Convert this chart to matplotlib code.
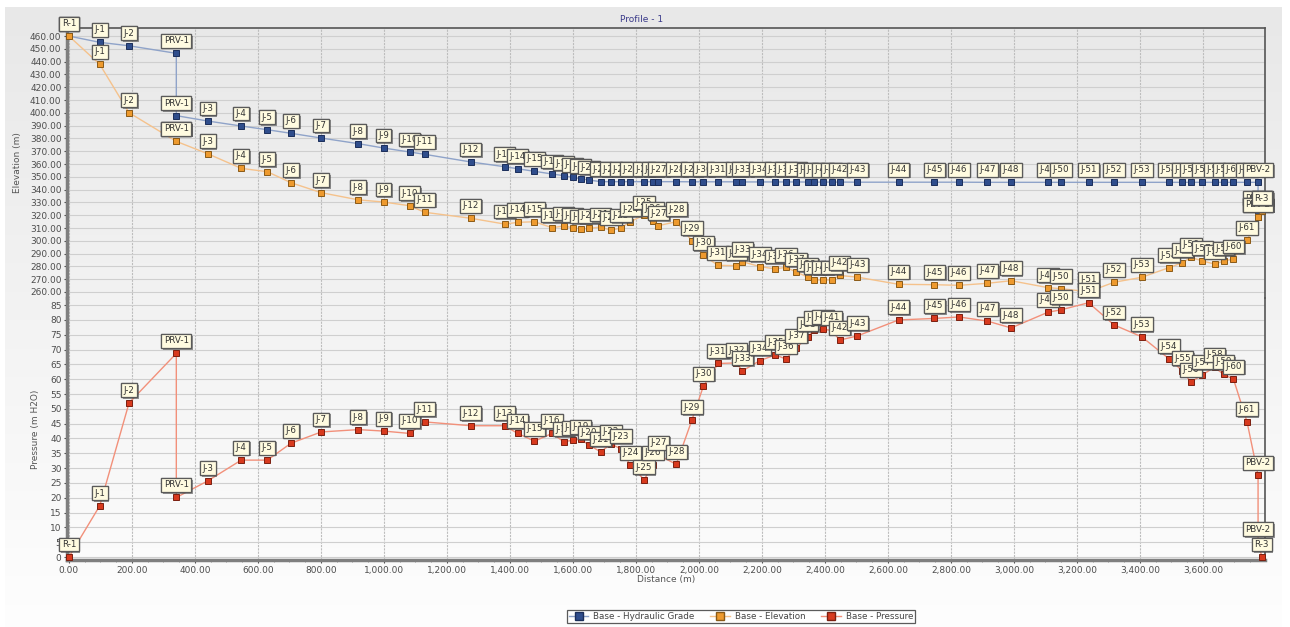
import matplotlib.pyplot as plt
import matplotlib.patheffects as pe
from matplotlib.ticker import MultipleLocator, FuncFormatter
from matplotlib.lines import Line2D
import numpy as np

# node labels along the profile (PRV-1 and PBV-2 appear twice: upstream / downstream)
labels = ['R-1', 'J-1', 'J-2', 'PRV-1', 'PRV-1', 'J-3', 'J-4', 'J-5', 'J-6', 'J-7',
          'J-8', 'J-9', 'J-10', 'J-11', 'J-12', 'J-13', 'J-14', 'J-15', 'J-16', 'J-17',
          'J-18', 'J-19', 'J-20', 'J-21', 'J-22', 'J-23', 'J-24', 'J-25', 'J-26', 'J-27',
          'J-28', 'J-29', 'J-30', 'J-31', 'J-32', 'J-33', 'J-34', 'J-35', 'J-36', 'J-37',
          'J-38', 'J-39', 'J-40', 'J-41', 'J-42', 'J-43', 'J-44', 'J-45', 'J-46', 'J-47',
          'J-48', 'J-49', 'J-50', 'J-51', 'J-52', 'J-53', 'J-54', 'J-55', 'J-56', 'J-57',
          'J-58', 'J-59', 'J-60', 'J-61', 'PBV-2', 'PBV-2', 'R-3']

distance = [0, 98, 191, 341, 341, 441, 547, 630, 705, 801,
            919, 999, 1082, 1129, 1276, 1383, 1425, 1478, 1534, 1571,
            1599, 1625, 1651, 1688, 1721, 1753, 1782, 1826, 1854, 1871,
            1928, 1978, 2014, 2061, 2119, 2138, 2194, 2243, 2276, 2309,
            2345, 2366, 2394, 2421, 2447, 2503, 2634, 2747, 2826, 2916,
            2991, 3108, 3149, 3237, 3318, 3406, 3492, 3535, 3562, 3598,
            3637, 3666, 3697, 3740, 3775, 3775, 3787]

hydraulic_grade = [460.0, 455.1, 452.4, 446.5, 397.8, 393.6, 389.7, 386.8, 384.0, 380.3,
                   375.9, 372.5, 369.4, 367.6, 361.6, 357.9, 356.3, 354.3, 352.2, 350.9,
                   349.6, 348.5, 347.5, 346.2, 346.2, 346.2, 346.2, 346.2, 346.2, 346.2,
                   346.2, 346.1, 346.1, 346.1, 346.1, 346.0, 346.0, 346.0, 346.0, 346.0,
                   345.9, 345.9, 345.9, 345.9, 345.9, 345.8, 345.8, 345.8, 345.8, 345.7,
                   345.7, 345.7, 345.7, 345.7, 345.7, 345.7, 345.7, 345.7, 345.7, 345.7,
                   345.7, 345.7, 345.7, 345.7, 345.7, 323.6, 323.5]

elevation = [460.0, 437.9, 400.1, 377.7, 377.7, 368.0, 356.6, 354.0, 345.4, 337.6,
             332.0, 330.3, 327.4, 322.3, 317.6, 313.1, 314.4, 314.9, 310.2, 311.6,
             310.2, 309.2, 309.7, 310.8, 308.2, 310.0, 314.9, 320.2, 315.2, 311.8,
             314.9, 300.0, 288.6, 280.8, 280.6, 283.7, 279.8, 278.0, 279.3, 275.6,
             271.7, 269.4, 269.4, 269.4, 272.9, 271.6, 266.0, 265.7, 265.2, 266.8,
             268.8, 263.4, 262.6, 260.2, 267.6, 271.5, 279.0, 282.9, 287.0, 284.3,
             281.8, 284.2, 285.8, 300.4, 318.4, 318.4, 323.5]

pressure = [0.0, 17.3, 52.0, 68.7, 20.1, 25.7, 32.7, 32.7, 38.4, 42.2,
            43.0, 42.5, 41.7, 45.6, 44.3, 44.3, 41.7, 39.1, 41.7, 38.9,
            39.4, 39.7, 37.8, 35.5, 38.1, 36.5, 31.0, 26.1, 31.0, 34.4,
            31.3, 46.3, 57.6, 65.3, 65.5, 62.8, 66.3, 68.2, 66.8, 70.5,
            74.3, 76.5, 76.8, 76.5, 73.2, 74.6, 80.0, 80.5, 81.0, 79.6,
            77.3, 82.6, 83.4, 85.8, 78.3, 74.3, 66.9, 62.8, 59.0, 61.5,
            64.0, 61.6, 60.0, 45.6, 27.6, 5.2, 0.0]

series_names = ['Base - Hydraulic Grade', 'Base - Elevation', 'Base - Pressure']
line_colors = ['#8fa3c9', '#f5c28c', '#f2907a']
face_colors = ['#2f4d8c', '#ee9a2e', '#d83a1e']
edge_colors = ['#1b2e5a', '#8a5a17', '#7a1f10']

plt.rcParams['font.family'] = ['DejaVu Sans']
W, H = 1290, 627
fig = plt.figure(figsize=(W / 100, H / 100), dpi=100)

# soft grey-to-white background behind the whole chart
bg = fig.add_axes([5 / W, 0, 1277 / W, 1 - 7 / H], zorder=-10)
grad = np.linspace(0, 1, 256).reshape(-1, 1)
c_top = np.array([0.91, 0.91, 0.91])
c_bot = np.array([0.995, 0.995, 0.995])
img = c_top + (c_bot - c_top) * grad[:, :, None]
bg.imshow(img, aspect='auto', extent=[0, 1, 0, 1])
bg.set_axis_off()

left, right = 67, 1265
ax_top = fig.add_axes([left / W, 1 - 298 / H, (right - left) / W, 270 / H])
ax_bot = fig.add_axes([left / W, 1 - 560 / H, (right - left) / W, 262 / H], sharex=ax_top)

tick_color = '#4d4d4d'
for ax in (ax_top, ax_bot):
    ax.set_facecolor('none')
    ax.set_xlim(-6, 3797)
    ax.xaxis.set_major_locator(MultipleLocator(200))
    ax.xaxis.set_minor_locator(MultipleLocator(50))
    ax.grid(axis='y', color='#cfcfcf', lw=0.8)
    ax.grid(axis='x', which='major', color='#bdbdbd', lw=0.8, ls=(0, (2, 1)))
    ax.tick_params(labelsize=6.5, colors=tick_color, length=2, pad=2)
    ax.tick_params(which='minor', length=1.5, colors='#888888')
    ax.set_axisbelow(True)
    ax.spines['left'].set_linewidth(2.5)
    ax.spines['left'].set_color('#7f7f7f')
    ax.spines['right'].set_color('#555555')
    ax.spines['right'].set_linewidth(1.2)

ax_top.spines['bottom'].set_visible(False)
ax_top.spines['top'].set_color('#555555')
ax_top.spines['top'].set_linewidth(1.2)
ax_bot.spines['top'].set_visible(False)
ax_bot.spines['bottom'].set_linewidth(2.5)
ax_bot.spines['bottom'].set_color('#7f7f7f')
ax_top.tick_params(axis='x', which='both', bottom=False, labelbottom=False)

ax_top.set_ylim(255.3, 466.3)
ax_top.yaxis.set_major_locator(MultipleLocator(10))
ax_top.yaxis.set_major_formatter(FuncFormatter(lambda v, p: f'{v:.2f}'))
ax_bot.set_ylim(-1.0, 87.4)
ax_bot.yaxis.set_major_locator(MultipleLocator(5))
ax_bot.yaxis.set_major_formatter(FuncFormatter(lambda v, p: f'{v:.0f}'))
ax_bot.xaxis.set_major_formatter(FuncFormatter(lambda v, p: f'{v:,.2f}' if 0 <= v <= 3600 else ''))

ax_top.set_ylabel('Elevation (m)', fontsize=6.5, color='#555555')
ax_top.yaxis.set_label_coords(-0.0376, 0.5)
ax_bot.set_ylabel('Pressure (m H2O)', fontsize=6.5, color='#555555')
ax_bot.yaxis.set_label_coords(-0.0225, 0.5)
ax_bot.set_xlabel('Distance (m)', fontsize=6.5, color='#555555')
ax_bot.xaxis.set_label_coords(0.5, -0.058)

fig.text(642 / W, 1 - 19 / H, 'Profile - 1', ha='center', va='center',
         fontsize=6.5, color='#3a3a8a')

shadow = [pe.withSimplePatchShadow(offset=(1.2, -1.2), shadow_rgbFace='#444444', alpha=0.55),
          pe.Normal()]


def draw_series(ax, values, k, z):
    ax.plot(distance, values, color=line_colors[k], lw=1.0, zorder=z,
            marker='s', markersize=5, markerfacecolor=face_colors[k],
            markeredgecolor=edge_colors[k], markeredgewidth=0.7, clip_on=False)
    for i, (xv, yv, lab) in enumerate(zip(distance, values, labels)):
        ann = ax.annotate(lab, (xv, yv), xytext=(0, 9), textcoords='offset points',
                          ha='center', va='center', fontsize=6.3, color='#333333',
                          annotation_clip=False, zorder=z + 1 + i * 0.001,
                          bbox=dict(boxstyle='square,pad=0.28', fc='#fffbe0',
                                    ec='#5a5a5a', lw=0.9))
        ann.get_bbox_patch().set_path_effects(shadow)


draw_series(ax_top, hydraulic_grade, 0, 3)
draw_series(ax_top, elevation, 1, 5)
draw_series(ax_bot, pressure, 2, 3)

handles = [Line2D([], [], color=line_colors[k], lw=1.0, marker='s', markersize=5.5,
                  markerfacecolor=face_colors[k], markeredgecolor=edge_colors[k])
           for k in range(3)]
leg = fig.legend(handles, series_names, loc='center', ncol=3,
                 bbox_to_anchor=(741 / W, 1 - 616.5 / H), fontsize=6.3,
                 frameon=True, fancybox=False, edgecolor='#333333', facecolor='white',
                 handlelength=2.2, columnspacing=1.8, borderpad=0.25, handletextpad=0.6)
leg.get_frame().set_linewidth(0.9)
for t in leg.get_texts():
    t.set_color('#444444')

fig.savefig('out.png', dpi=100)
